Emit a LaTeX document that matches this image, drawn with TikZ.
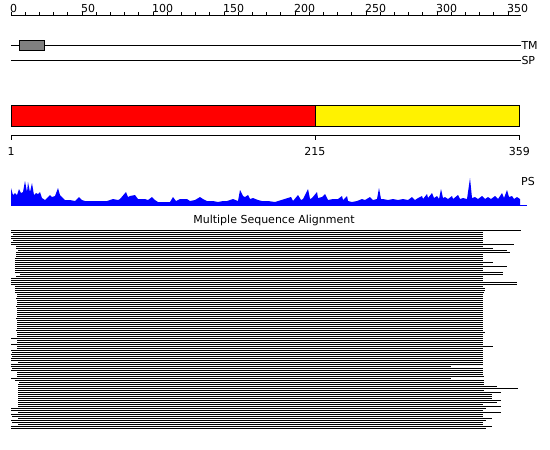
\documentclass[tikz,border=0pt]{standalone}
\usepackage{fontspec}
\setmainfont{DejaVu Sans}
\begin{document}
\begin{tikzpicture}
  [x=1pt,y=-1pt
  ,lbl/.style={font=\fontsize{11}{12}\selectfont,inner sep=0pt}
  ,track/.style={line width=1pt}
  ,msa/.style={line width=1pt}
  ,profile/.style={fill=blue,draw=none}
  ]

  \useasboundingbox (0,0) rectangle (550,450);

  % Domain zone
  %
  % #1 - first residue
  % #2 - last residue
  % #3 - color
  \newcommand{\dzone}[3]{
    \path[draw,fill=#3] ({11+1.42*(#1-1)},105) rectangle ({11+1.42*(#2-1)},126);
  }

  % Residue label under the domains
  %
  % #1 - residue
  \newcommand{\rlabel}[1]{
    \draw ({11+1.42*(#1-1)},135) -- ++(0,5)
      node [lbl,anchor=base,pos=1,yshift=-15pt] (res#1) {#1};
  }

  % ruler
  \draw[track] (11,15) -- (521,15);
  \foreach \t in {0,10,...,350}
    \draw[track] ({11+1.42*\t},15) -- ++(0,-3);
  \foreach \t in {0,50,...,350}
    \node[lbl,anchor=base west] (r\t) at ({10+1.42*\t},12) {\t};

  % TM
  \draw[track] (11,45) -- (521,45) node [lbl,anchor=west] (tm) {TM};
  \draw[fill=gray] (19,40) rectangle (44,50);

  % SP
  \draw[track] (11,60) -- (521,60) node [lbl,anchor=west] (sp) {SP};

  % domains
  \dzone{1}{215}{red}
  \dzone{215}{359}{yellow}

  \draw (11,135) -- (520,135);
  \rlabel{1}
  \rlabel{215}
  \rlabel{359}

  % PS
  \fill[profile] (11,205.7) -- plot coordinates {
    (11,188) (13,195) (15,193) (17,195) (19,189) (21,193) (23,192) (25,181)
    (27,192) (28,182) (30,192) (32,183) (34,195) (36,193) (38,194) (40,192)
    (42,198) (45,200) (48,197) (50,195) (52,197) (55,196) (58,188) (60,195)
    (62,197) (65,200) (70,200) (75,201) (79,197) (82,200) (85,201) (90,201)
    (100,201) (107,201) (113,199) (118,200) (120,199) (126,192) (128,197)
    (130,196) (135,195) (138,199) (140,199) (145,199) (148,200) (152,197)
    (155,200) (158,202) (165,202) (170,202) (173,197) (176,201) (180,199)
    (187,199) (190,201) (195,200) (200,197) (203,199) (207,201) (213,201)
    (218,202) (223,201) (227,201) (233,199) (238,201) (240,190) (243,196)
    (245,197) (248,195) (250,199) (253,198) (258,200) (262,201) (268,201)
    (275,202) (291,197) (293,201) (298,195) (301,200) (303,199) (308,189)
    (310,199) (312,198) (317,192) (318,198) (322,197) (325,194) (328,200)
    (333,199) (338,199) (342,196) (343,200) (347,196) (348,201) (352,202)
    (357,201) (362,199) (365,200) (370,197) (373,200) (377,199) (379,188)
    (381,199) (383,199) (388,200) (393,199) (398,200) (403,199) (408,200)
    (412,197) (415,200) (418,198) (422,196) (423,199) (427,194) (428,198)
    (432,193) (434,198) (437,196) (439,199) (441,189) (443,198) (445,197)
    (448,199) (452,196) (453,199) (458,195) (460,199) (463,198) (467,199)
    (470,178) (472,198) (475,197) (478,199) (482,196) (485,199) (488,197)
    (491,199) (495,196) (498,199) (502,193) (504,198) (507,190) (509,197)
    (512,196) (514,199) (517,197) (520,199)
  } -- (520,205.7) -- cycle;
  \draw[blue] (11,205.5) -- (527,205.5);
  \node[lbl,anchor=west] (ps) at (521,181) {PS};

  % alignment
  \node[lbl] (msa) at (274,220) {Multiple Sequence Alignment};
  \foreach \s/\e [count=\i from 0] in {
    11/521,11/483,13/483,11/483,11/483,13/483,11/483,11/514,16/483,16/493,
    18/507,16/510,16/483,16/483,15/483,15/483,15/493,15/483,15/507,15/483,
    15/483,15/503,20/503,16/483,11/483,11/483,11/517,11/517,15/483,15/485,
    15/485,15/484,17/483,17/483,16/483,17/483,17/483,17/483,16/483,17/483,
    17/483,17/483,17/483,17/483,16/483,17/483,17/483,17/483,17/483,17/483,
    16/483,17/485,17/483,17/483,11/483,17/483,17/483,11/483,17/493,17/483,
    11/483,12/483,11/483,12/483,11/483,11/483,18/483,11/483,11/451,12/483,
    11/483,17/483,17/483,17/484,11/451,15/484,19/484,18/484,18/497,18/518,
    18/484,18/501,18/492,18/492,18/492,18/501,18/497,18/483,18/501,11/486,
    11/483,18/501,11/483,12/483,18/492,11/486,12/483,18/483,11/492,11/486}
    \draw[msa] (\s,{230+2*\i}) -- (\e,{230+2*\i});

\end{tikzpicture}
\end{document}
